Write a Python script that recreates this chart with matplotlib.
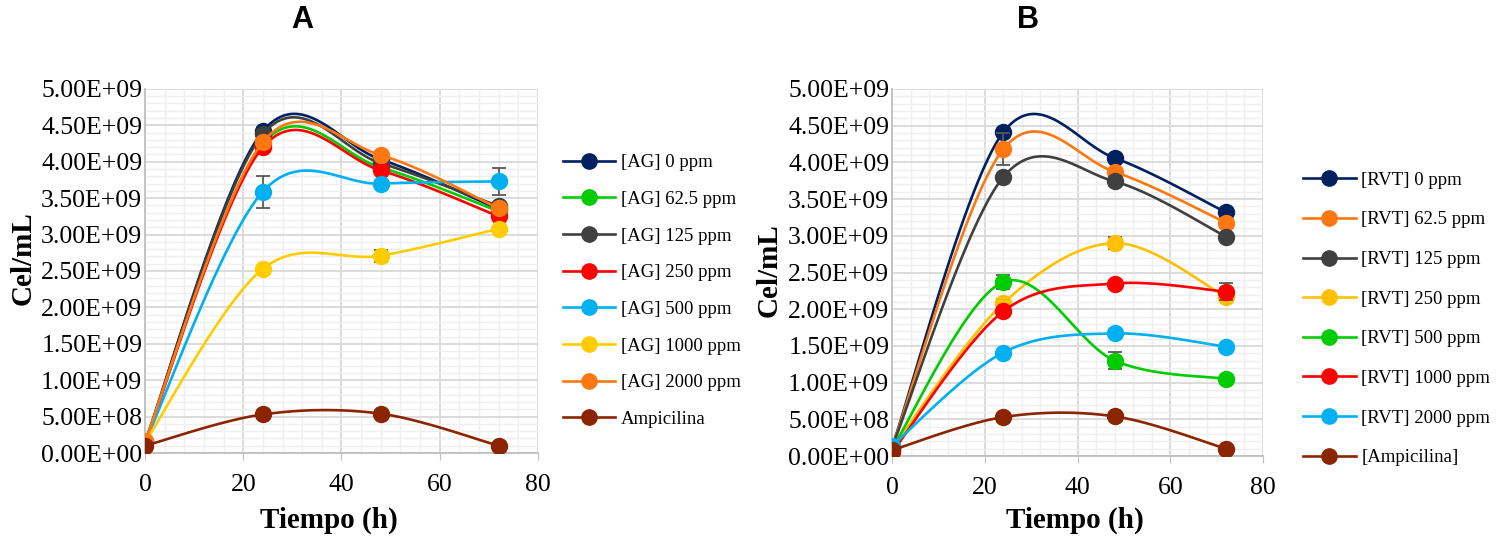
"""
Curvas de crecimiento (Cel/mL vs tiempo) para AG y RVT, paneles A y B.
Líneas suavizadas al estilo Excel (Bezier tipo Catmull-Rom).
"""

import numpy as np
import matplotlib.pyplot as plt
from matplotlib.ticker import FuncFormatter, MultipleLocator

# ─── Datos ─────────────────────────────────────────────────────────────
tiempo = [0, 24, 48, 72]

# Panel A — [AG]
labels_a = ['[AG] 0 ppm', '[AG] 62.5 ppm', '[AG] 125 ppm', '[AG] 250 ppm',
            '[AG] 500 ppm', '[AG] 1000 ppm', '[AG] 2000 ppm', 'Ampicilina']
colors_a = ['#002060', '#00cc00', '#404040', '#ff0000',
            '#00b0f0', '#ffcc00', '#ff7711', '#8b2500']
ag_0    = [1.5e8, 4.42e9, 4.03e9, 3.35e9]
ag_62   = [1.5e8, 4.25e9, 3.92e9, 3.32e9]
ag_125  = [1.5e8, 4.38e9, 3.98e9, 3.39e9]
ag_250  = [1.5e8, 4.20e9, 3.88e9, 3.25e9]
ag_500  = [1.5e8, 3.59e9, 3.70e9, 3.73e9]
ag_1000 = [1.5e8, 2.53e9, 2.71e9, 3.08e9]
ag_2000 = [1.6e8, 4.27e9, 4.09e9, 3.36e9]
amp_a   = [1.0e8, 5.3e8, 5.4e8, 1.0e8]
err_ag_500  = [0, 2.2e8, 0, 1.9e8]
err_ag_1000 = [0, 0, 8e7, 0]

# Panel B — [RVT]
labels_b = ['[RVT] 0 ppm', '[RVT] 62.5 ppm', '[RVT] 125 ppm', '[RVT] 250 ppm',
            '[RVT] 500 ppm', '[RVT] 1000 ppm', '[RVT] 2000 ppm', '[Ampicilina]']
colors_b = ['#002060', '#ff7711', '#404040', '#ffc000',
            '#00cc00', '#ff0000', '#00b0f0', '#8b2500']
rvt_0    = [1.2e8, 4.41e9, 4.06e9, 3.32e9]
rvt_62   = [1.2e8, 4.18e9, 3.87e9, 3.18e9]
rvt_125  = [1.2e8, 3.80e9, 3.74e9, 2.99e9]
rvt_250  = [1.0e8, 2.08e9, 2.90e9, 2.17e9]
rvt_500  = [1.0e8, 2.37e9, 1.30e9, 1.05e9]
rvt_1000 = [0.5e8, 1.97e9, 2.35e9, 2.24e9]
rvt_2000 = [1.4e8, 1.41e9, 1.67e9, 1.49e9]
amp_b    = [0.8e8, 5.3e8, 5.4e8, 1.0e8]
err_rvt_62   = [0, 2.2e8, 0, 0]
err_rvt_250  = [0, 6e7, 8e7, 0]
err_rvt_500  = [0, 1.0e8, 1.2e8, 0]
err_rvt_1000 = [0, 0, 0, 1.2e8]

series_a = [ag_0, ag_62, ag_125, ag_250, ag_500, ag_1000, ag_2000, amp_a]
errs_a = [None, None, None, None, err_ag_500, err_ag_1000, None, None]
series_b = [rvt_0, rvt_62, rvt_125, rvt_250, rvt_500, rvt_1000, rvt_2000, amp_b]
errs_b = [None, err_rvt_62, None, err_rvt_250, err_rvt_500, err_rvt_1000,
          None, None]


def smooth(x, y, n=40):
    """Bezier segments with Catmull-Rom tangents (Excel 'smoothed line')."""
    p = np.column_stack([np.asarray(x, float), np.asarray(y, float)])
    ext = np.vstack([p[0], p, p[-1]])
    out = []
    t = np.linspace(0, 1, n)[:, None]
    for i in range(len(p) - 1):
        p0, p1 = p[i], p[i + 1]
        c1 = p0 + (ext[i + 2] - ext[i]) / 6.0
        c2 = p1 - (ext[i + 3] - ext[i + 1]) / 6.0
        seg = ((1 - t) ** 3) * p0 + 3 * ((1 - t) ** 2) * t * c1 \
            + 3 * (1 - t) * t ** 2 * c2 + t ** 3 * p1
        out.append(seg if i == 0 else seg[1:])
    out = np.vstack(out)
    return out[:, 0], out[:, 1]


def draw_panel(ax, series, errs, labels, colors):
    for k, (y, e, lab, col) in enumerate(zip(series, errs, labels, colors)):
        z = 3 + k
        xs, ys = smooth(tiempo, y)
        ax.plot(xs, ys, color=col, lw=1.9, zorder=z)
        if e is not None:
            ax.errorbar(tiempo, y, yerr=e, fmt='none', ecolor='#595959',
                        elinewidth=1.3, capsize=5, capthick=1.3, zorder=z)
        ax.plot(tiempo, y, 'o', color=col, markersize=11.5, zorder=z)
        # legend proxy
        ax.plot([], [], '-o', color=col, lw=1.9, markersize=11, label=lab)

    ax.set_xlim(0, 80)
    ax.set_ylim(0, 5e9)
    ax.xaxis.set_major_locator(MultipleLocator(20))
    ax.xaxis.set_minor_locator(MultipleLocator(4))
    ax.yaxis.set_major_locator(MultipleLocator(5e8))
    ax.yaxis.set_minor_locator(MultipleLocator(1e8))
    ax.yaxis.set_major_formatter(FuncFormatter(lambda v, _: f"{v:.2E}"))
    ax.grid(which='major', color='#d9d9d9', lw=1.3, zorder=0)
    ax.grid(which='minor', color='#efefef', lw=1.0, zorder=0)
    ax.set_axisbelow(True)
    for s in ('top', 'right'):
        ax.spines[s].set_visible(False)
    for s in ('left', 'bottom'):
        ax.spines[s].set_color('#bfbfbf')
        ax.spines[s].set_linewidth(1.3)
    ax.tick_params(axis='y', which='both', length=0, labelsize=18.5,
                   pad=2)
    ax.tick_params(axis='x', which='major', length=5, color='#bfbfbf',
                   labelsize=18.5, pad=10)
    ax.tick_params(axis='x', which='minor', length=0)
    for lbl in ax.get_xticklabels() + ax.get_yticklabels():
        lbl.set_family('Liberation Serif')
    ax.set_xlabel('Tiempo (h)', family='Liberation Serif', fontsize=21,
                  fontweight='bold')
    ax.set_ylabel('Cel/mL', family='Liberation Serif', fontsize=21,
                  fontweight='bold')


fig = plt.figure(figsize=(15.09, 5.37), dpi=100)
ax_a = fig.add_axes([0.0961, 0.1564, 0.2604, 0.678])
ax_b = fig.add_axes([0.5911, 0.1508, 0.2459, 0.6835])

draw_panel(ax_a, series_a, errs_a, labels_a, colors_a)
draw_panel(ax_b, series_b, errs_b, labels_b, colors_b)

ax_a.yaxis.set_label_coords(-0.275, 0.535)
ax_a.xaxis.set_label_coords(0.468, -0.148)
ax_b.yaxis.set_label_coords(-0.294, 0.507)
ax_b.xaxis.set_label_coords(0.493, -0.139)

leg_kw = dict(frameon=False, handlelength=2.8, handletextpad=0.3,
              borderpad=0, borderaxespad=0,
              prop={'family': 'Liberation Serif', 'size': 13.5})
ax_a.legend(loc='center left', bbox_to_anchor=(0.373, 0.458),
            bbox_transform=fig.transFigure, labelspacing=1.04, **leg_kw)
ax_b.legend(loc='center left', bbox_to_anchor=(0.8635, 0.406),
            bbox_transform=fig.transFigure, labelspacing=1.2, **leg_kw)

fig.text(0.200, 0.963, 'A', ha='center', va='center', fontsize=22,
         fontweight='bold', family='Liberation Sans')
fig.text(0.681, 0.963, 'B', ha='center', va='center', fontsize=22,
         fontweight='bold', family='Liberation Sans')

fig.savefig('out.png', dpi=100)
plt.close(fig)
